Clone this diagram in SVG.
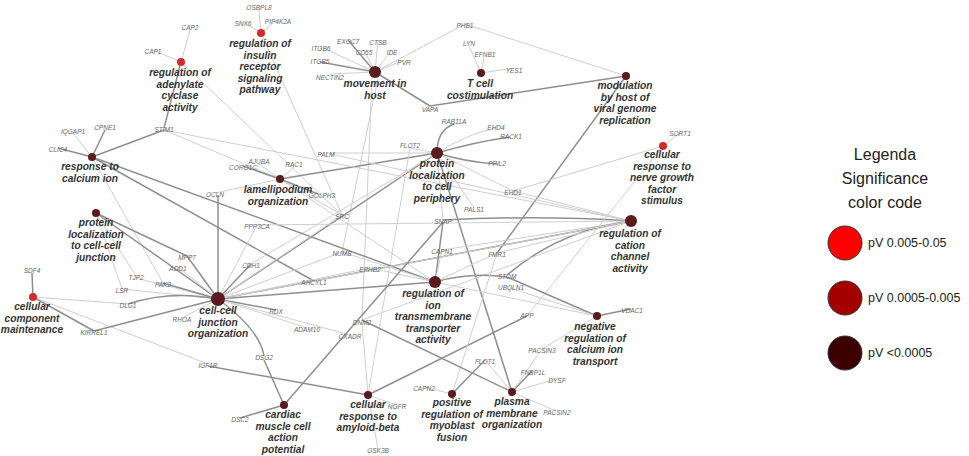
<svg xmlns="http://www.w3.org/2000/svg" width="969" height="456" viewBox="0 0 969 456">
<style>
.e{stroke:#cfcfcf;stroke-width:1;fill:none}
.d{stroke:#8f8f8f;stroke-width:1.5;fill:none}
.g{font-family:"Liberation Sans",Arial,sans-serif;font-size:6.5px;font-style:italic;fill:#666;text-anchor:middle}
.t{font-family:"Liberation Sans",Arial,sans-serif;font-size:10.2px;font-style:italic;font-weight:bold;fill:#333;text-anchor:middle}
.n{fill:#5a1a1e}
.r{fill:#d42a2a}
.lg{font-family:"Liberation Sans",Arial,sans-serif;fill:#222;text-anchor:middle}
</style>
<rect width="969" height="456" fill="#fff"/>
<g id="connectors">
<line class="e" x1="181" y1="62" x2="190" y2="30"/><line class="e" x1="181" y1="62" x2="153" y2="50"/><line class="d" x1="181" y1="62" x2="164" y2="128"/><line class="e" x1="181" y1="62" x2="342" y2="215"/>
<line class="e" x1="261" y1="33" x2="259" y2="10"/><line class="e" x1="261" y1="33" x2="243" y2="22"/><line class="e" x1="261" y1="33" x2="277" y2="20"/><line class="e" x1="261" y1="33" x2="342" y2="215"/>
<line class="d" x1="375" y1="72" x2="348" y2="40"/><line class="e" x1="375" y1="72" x2="321" y2="47"/><line class="e" x1="375" y1="72" x2="378" y2="40"/><line class="e" x1="375" y1="72" x2="364" y2="50"/><line class="e" x1="375" y1="72" x2="392" y2="50"/><line class="e" x1="375" y1="72" x2="404" y2="60"/><line class="d" x1="375" y1="72" x2="320" y2="62"/><line class="e" x1="375" y1="72" x2="330" y2="74"/><line class="d" x1="375" y1="72" x2="430" y2="106"/><line class="e" x1="375" y1="72" x2="465" y2="24"/><line class="e" x1="372" y1="78" x2="362" y2="320"/><line class="e" x1="378" y1="78" x2="342" y2="252"/>
<line class="e" x1="481" y1="73" x2="469" y2="46"/><line class="e" x1="481" y1="73" x2="484" y2="57"/><line class="e" x1="481" y1="73" x2="514" y2="68"/>
<line class="e" x1="626" y1="76" x2="465" y2="24"/><line class="d" x1="626" y1="76" x2="430" y2="106"/><line class="d" x1="626" y1="76" x2="497" y2="253"/>
<path class="d" d="M437 153 Q437 130 454 124"/><path class="e" d="M437 153 Q465 135 495 128"/><path class="d" d="M437 153 Q475 142 510 137"/><path class="d" d="M437 153 Q465 162 497 164"/><line class="e" x1="437" y1="153" x2="410" y2="148"/><line class="e" x1="437" y1="153" x2="513" y2="191"/><line class="e" x1="437" y1="153" x2="474" y2="208"/><line class="e" x1="437" y1="153" x2="443" y2="220"/><line class="e" x1="437" y1="153" x2="326" y2="153"/><line class="d" x1="437" y1="153" x2="218" y2="299"/><line class="d" x1="437" y1="153" x2="512" y2="392"/><line class="d" x1="437" y1="153" x2="280" y2="179"/><line class="e" x1="410" y1="148" x2="368" y2="395"/><line class="e" x1="437" y1="153" x2="251" y2="264"/>
<line class="e" x1="92" y1="157" x2="73" y2="133"/><line class="d" x1="92" y1="157" x2="105" y2="130"/><line class="d" x1="92" y1="157" x2="58" y2="148"/><line class="d" x1="92" y1="157" x2="164" y2="130"/><line class="d" x1="92" y1="157" x2="314" y2="281"/><line class="d" x1="92" y1="157" x2="435" y2="282"/><line class="e" x1="92" y1="157" x2="163" y2="283"/>
<line class="e" x1="164" y1="130" x2="631" y2="221"/><line class="e" x1="164" y1="130" x2="280" y2="179"/>
<line class="d" x1="280" y1="179" x2="243" y2="166"/><line class="e" x1="280" y1="179" x2="259" y2="164"/><line class="e" x1="280" y1="179" x2="294" y2="167"/><line class="d" x1="280" y1="179" x2="318" y2="194"/><line class="e" x1="280" y1="179" x2="215" y2="193"/><line class="e" x1="280" y1="179" x2="342" y2="215"/><line class="e" x1="280" y1="179" x2="435" y2="282"/>
<line class="d" x1="96" y1="213" x2="187" y2="256"/><line class="e" x1="96" y1="213" x2="122" y2="289"/><line class="e" x1="96" y1="213" x2="136" y2="276"/><line class="d" x1="96" y1="213" x2="218" y2="299"/><line class="e" x1="122" y1="289" x2="218" y2="299"/>
<path class="d" d="M631 221 Q540 215 443 220"/><path class="d" d="M631 221 Q560 230 507 275"/><line class="e" x1="631" y1="221" x2="442" y2="250"/><line class="e" x1="631" y1="221" x2="497" y2="253"/><line class="e" x1="631" y1="221" x2="513" y2="191"/><line class="d" x1="631" y1="221" x2="218" y2="299"/><line class="e" x1="631" y1="221" x2="362" y2="320"/><line class="e" x1="631" y1="221" x2="314" y2="281"/><line class="e" x1="631" y1="221" x2="326" y2="153"/><line class="e" x1="631" y1="221" x2="257" y2="225"/>
<line class="e" x1="663" y1="146" x2="680" y2="133"/><line class="e" x1="663" y1="146" x2="513" y2="191"/><line class="e" x1="663" y1="146" x2="527" y2="316"/>
<line class="d" x1="435" y1="282" x2="443" y2="222"/><path class="d" d="M435 282 Q470 272 507 277"/><line class="e" x1="435" y1="282" x2="370" y2="268"/><line class="e" x1="435" y1="282" x2="442" y2="250"/><line class="e" x1="435" y1="282" x2="342" y2="252"/><line class="e" x1="435" y1="282" x2="597" y2="316"/><line class="e" x1="435" y1="282" x2="497" y2="253"/><line class="d" x1="435" y1="282" x2="218" y2="299"/>
<line class="d" x1="33" y1="297" x2="32" y2="273"/><line class="d" x1="33" y1="297" x2="94" y2="331"/><line class="e" x1="33" y1="297" x2="128" y2="304"/><line class="e" x1="33" y1="297" x2="208" y2="364"/>
<line class="d" x1="218" y1="299" x2="187" y2="256"/><line class="e" x1="218" y1="299" x2="178" y2="267"/><line class="d" x1="218" y1="299" x2="251" y2="264"/><line class="e" x1="218" y1="299" x2="136" y2="278"/><line class="d" x1="218" y1="299" x2="163" y2="283"/><path class="d" d="M218 299 Q170 290 128 304"/><line class="e" x1="218" y1="299" x2="182" y2="318"/><line class="d" x1="218" y1="299" x2="276" y2="310"/><line class="d" x1="218" y1="299" x2="94" y2="331"/><line class="e" x1="218" y1="299" x2="314" y2="281"/><line class="e" x1="218" y1="299" x2="307" y2="328"/><path class="d" d="M218 299 Q260 330 264 356"/><line class="d" x1="218" y1="299" x2="218" y2="195"/><line class="e" x1="218" y1="299" x2="257" y2="225"/><line class="e" x1="218" y1="299" x2="342" y2="215"/><line class="e" x1="218" y1="299" x2="350" y2="335"/><line class="e" x1="218" y1="299" x2="342" y2="252"/><line class="e" x1="218" y1="299" x2="370" y2="268"/>
<line class="d" x1="597" y1="316" x2="631" y2="309"/><line class="d" x1="597" y1="316" x2="507" y2="277"/><line class="e" x1="597" y1="316" x2="510" y2="288"/><line class="e" x1="597" y1="316" x2="542" y2="349"/>
<line class="d" x1="284" y1="405" x2="264" y2="360"/><line class="d" x1="284" y1="405" x2="240" y2="418"/><line class="d" x1="284" y1="405" x2="443" y2="222"/>
<line class="d" x1="368" y1="395" x2="208" y2="366"/><line class="e" x1="368" y1="395" x2="396" y2="405"/><line class="e" x1="368" y1="395" x2="378" y2="449"/><line class="d" x1="368" y1="395" x2="527" y2="316"/><line class="e" x1="368" y1="395" x2="362" y2="323"/>
<line class="e" x1="452" y1="394" x2="424" y2="387"/><line class="d" x1="452" y1="394" x2="485" y2="360"/><line class="e" x1="452" y1="394" x2="497" y2="253"/>
<line class="d" x1="512" y1="392" x2="532" y2="371"/><line class="e" x1="512" y1="392" x2="556" y2="379"/><line class="e" x1="512" y1="392" x2="556" y2="411"/><line class="e" x1="512" y1="392" x2="542" y2="349"/><line class="d" x1="512" y1="392" x2="362" y2="320"/><line class="e" x1="512" y1="392" x2="485" y2="360"/>
</g>
<g id="genes">
<text class="g" x="259" y="10">OSBPL8</text><text class="g" x="243" y="26">SNX6</text><text class="g" x="278" y="24">PIP4K2A</text><text class="g" x="190" y="30">CAP2</text><text class="g" x="153" y="54">CAP1</text>
<text class="g" x="321" y="51">ITGB6</text><text class="g" x="348" y="44">EXOC7</text><text class="g" x="378" y="45">CTSB</text><text class="g" x="364" y="55">CD55</text><text class="g" x="392" y="55">IDE</text><text class="g" x="404" y="65">PVR</text><text class="g" x="320" y="64">ITGB5</text><text class="g" x="330" y="80">NECTIN2</text>
<text class="g" x="73" y="134">IQGAP1</text><text class="g" x="105" y="130">CPNE1</text><text class="g" x="58" y="152">CLIC4</text><text class="g" x="164" y="132">STIM1</text><text class="g" x="326" y="157">PALM</text><text class="g" x="243" y="170">CORO1C</text><text class="g" x="259" y="164">AJUBA</text><text class="g" x="294" y="167">RAC1</text><text class="g" x="215" y="197">OCLN</text><text class="g" x="322" y="198">GOLPH3</text><text class="g" x="342" y="219">SRC</text><text class="g" x="257" y="229">PPP3CA</text>
<text class="g" x="465" y="28">PHB1</text><text class="g" x="469" y="46">LYN</text><text class="g" x="485" y="57">EFNB1</text><text class="g" x="514" y="73">YES1</text><text class="g" x="430" y="112">VAPA</text><text class="g" x="454" y="124">RAB11A</text><text class="g" x="496" y="130">EHD4</text><text class="g" x="511" y="139">RACK1</text><text class="g" x="410" y="148">FLOT2</text><text class="g" x="497" y="166">PPIL2</text><text class="g" x="513" y="195">EHD1</text><text class="g" x="474" y="212">PALS1</text><text class="g" x="443" y="224">SNAP</text><text class="g" x="680" y="136">SORT1</text>
<text class="g" x="32" y="273">SDF4</text><text class="g" x="187" y="260">MPP7</text><text class="g" x="178" y="271">ADD1</text><text class="g" x="251" y="268">CDH1</text><text class="g" x="136" y="280">TJP2</text><text class="g" x="163" y="287">PAK2</text><text class="g" x="122" y="293">LSR</text><text class="g" x="128" y="308">DLG1</text><text class="g" x="314" y="285">AHCYL1</text><text class="g" x="342" y="256">NUMB</text><text class="g" x="370" y="272">EPHB2</text><text class="g" x="276" y="314">RDX</text><text class="g" x="182" y="322">RHOA</text><text class="g" x="94" y="335">KIRREL1</text><text class="g" x="307" y="332">ADAM10</text><text class="g" x="362" y="325">DNM2</text><text class="g" x="350" y="339">CXADR</text><text class="g" x="264" y="360">DSG2</text><text class="g" x="208" y="368">IGF1R</text><text class="g" x="240" y="422">DSC2</text><text class="g" x="378" y="453">GSK3B</text>
<text class="g" x="442" y="254">CAPN1</text><text class="g" x="497" y="257">FMR1</text><text class="g" x="507" y="279">STOM</text><text class="g" x="511" y="290">UBQLN1</text><text class="g" x="527" y="318">APP</text><text class="g" x="397" y="409">NGFR</text><text class="g" x="542" y="353">PACSIN3</text><text class="g" x="485" y="364">FLOT1</text><text class="g" x="533" y="375">FNBP1L</text><text class="g" x="557" y="383">DYSF</text><text class="g" x="424" y="391">CAPN2</text><text class="g" x="557" y="415">PACSIN2</text><text class="g" x="632" y="313">VDAC1</text>
</g>
<g id="n-adenylate"><circle class="r" cx="181" cy="62" r="4"/><text class="t" x="180" y="76">regulation of<tspan x="180" dy="11.5">adenylate</tspan><tspan x="180" dy="11.5">cyclase</tspan><tspan x="180" dy="11.5">activity</tspan></text></g>
<g id="n-insulin"><circle class="r" cx="261" cy="33" r="4"/><text class="t" x="260" y="47">regulation of<tspan x="260" dy="11.5">insulin</tspan><tspan x="260" dy="11.5">receptor</tspan><tspan x="260" dy="11.5">signaling</tspan><tspan x="260" dy="11.5">pathway</tspan></text></g>
<g id="n-movement"><circle class="n" cx="375" cy="72" r="6"/><text class="t" x="375" y="87">movement in<tspan x="375" dy="11.5">host</tspan></text></g>
<g id="n-tcell"><circle class="n" cx="481" cy="73" r="4"/><text class="t" x="480" y="87">T cell<tspan x="480" dy="11.5">costimulation</tspan></text></g>
<g id="n-modulation"><circle class="n" cx="626" cy="76" r="4"/><text class="t" x="625" y="89">modulation<tspan x="625" dy="11.5">by host of</tspan><tspan x="625" dy="11.5">viral genome</tspan><tspan x="625" dy="11.5">replication</tspan></text></g>
<g id="n-nerve"><circle class="r" cx="663" cy="146" r="4"/><text class="t" x="662" y="158">cellular<tspan x="662" dy="11.5">response to</tspan><tspan x="662" dy="11.5">nerve growth</tspan><tspan x="662" dy="11.5">factor</tspan><tspan x="662" dy="11.5">stimulus</tspan></text></g>
<g id="n-periphery"><circle class="n" cx="437" cy="153" r="6"/><text class="t" x="437" y="167">protein<tspan x="437" dy="11.5">localization</tspan><tspan x="437" dy="11.5">to cell</tspan><tspan x="437" dy="11.5">periphery</tspan></text></g>
<g id="n-calcium"><circle class="n" cx="92" cy="157" r="4"/><text class="t" x="90" y="170">response to<tspan x="90" dy="11.5">calcium ion</tspan></text></g>
<g id="n-lamellipodium"><circle class="n" cx="280" cy="179" r="4"/><text class="t" x="278" y="193">lamellipodium<tspan x="278" dy="11.5">organization</tspan></text></g>
<g id="n-celljunction"><circle class="n" cx="96" cy="213" r="4"/><text class="t" x="96" y="226">protein<tspan x="96" dy="11.5">localization</tspan><tspan x="96" dy="11.5">to cell-cell</tspan><tspan x="96" dy="11.5">junction</tspan></text></g>
<g id="n-cation"><circle class="n" cx="631" cy="221" r="6"/><text class="t" x="630" y="237">regulation of<tspan x="630" dy="11.5">cation</tspan><tspan x="630" dy="11.5">channel</tspan><tspan x="630" dy="11.5">activity</tspan></text></g>
<g id="n-ion"><circle class="n" cx="435" cy="282" r="6"/><text class="t" x="433" y="297">regulation of<tspan x="433" dy="11.5">ion</tspan><tspan x="433" dy="11.5">transmembrane</tspan><tspan x="433" dy="11.5">transporter</tspan><tspan x="433" dy="11.5">activity</tspan></text></g>
<g id="n-maintenance"><circle class="r" cx="33" cy="297" r="4"/><text class="t" x="32" y="310">cellular<tspan x="32" dy="11.5">component</tspan><tspan x="32" dy="11.5">maintenance</tspan></text></g>
<g id="n-junctionorg"><circle class="n" cx="218" cy="299" r="7"/><text class="t" x="218" y="314">cell-cell<tspan x="218" dy="11.5">junction</tspan><tspan x="218" dy="11.5">organization</tspan></text></g>
<g id="n-negcalcium"><circle class="n" cx="597" cy="316" r="4"/><text class="t" x="595" y="330">negative<tspan x="595" dy="11.5">regulation of</tspan><tspan x="595" dy="11.5">calcium ion</tspan><tspan x="595" dy="11.5">transport</tspan></text></g>
<g id="n-cardiac"><circle class="n" cx="284" cy="405" r="4"/><text class="t" x="283" y="418">cardiac<tspan x="283" dy="11.5">muscle cell</tspan><tspan x="283" dy="11.5">action</tspan><tspan x="283" dy="11.5">potential</tspan></text></g>
<g id="n-amyloid"><circle class="n" cx="368" cy="395" r="4"/><text class="t" x="368" y="408">cellular<tspan x="368" dy="11.5">response to</tspan><tspan x="368" dy="11.5">amyloid-beta</tspan></text></g>
<g id="n-myoblast"><circle class="n" cx="452" cy="394" r="4"/><text class="t" x="452" y="406">positive<tspan x="452" dy="11.5">regulation of</tspan><tspan x="452" dy="11.5">myoblast</tspan><tspan x="452" dy="11.5">fusion</tspan></text></g>
<g id="n-plasma"><circle class="n" cx="512" cy="392" r="4"/><text class="t" x="512" y="405">plasma<tspan x="512" dy="11.5">membrane</tspan><tspan x="512" dy="11.5">organization</tspan></text></g>
<g id="legend">
<text class="lg" x="885" y="160" font-size="16">Legenda</text>
<text class="lg" x="885" y="184" font-size="16">Significance</text>
<text class="lg" x="885" y="208" font-size="16">color code</text>
<circle cx="845" cy="243" r="17" fill="#ff0000" stroke="#333" stroke-width="1"/>
<circle cx="845" cy="298" r="17" fill="#a50000" stroke="#333" stroke-width="1"/>
<circle cx="845" cy="353" r="17" fill="#3c0000" stroke="#333" stroke-width="1"/>
<text class="lg" x="868" y="247" font-size="12.5" style="text-anchor:start">pV 0.005-0.05</text>
<text class="lg" x="868" y="302" font-size="12.5" style="text-anchor:start">pV 0.0005-0.005</text>
<text class="lg" x="868" y="357" font-size="12.5" style="text-anchor:start">pV &lt;0.0005</text>
</g>
</svg>
